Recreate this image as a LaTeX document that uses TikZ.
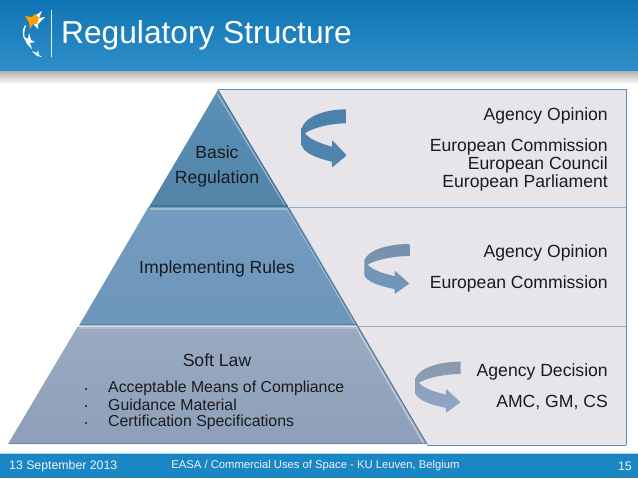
\documentclass[tikz,border=0pt]{standalone}
\usepackage{fontspec}
\setmainfont{Liberation Sans}
\definecolor{barTop}{HTML}{0F74B4}
\definecolor{barBot}{HTML}{2F8FC9}
\definecolor{footBlue}{HTML}{1B86C4}
\definecolor{panel}{HTML}{E7E5EA}
\definecolor{rule}{HTML}{8FA9C9}
\definecolor{edge}{HTML}{5F8DB8}
\definecolor{txt}{HTML}{1A1A1F}
\definecolor{aTop}{HTML}{5A90B8}
\definecolor{aBot}{HTML}{5284A6}
\definecolor{bTop}{HTML}{749CC0}
\definecolor{bBot}{HTML}{6C96BA}
\definecolor{cTop}{HTML}{99AAC1}
\definecolor{cBot}{HTML}{8EA0B9}
\definecolor{arAt}{HTML}{4C80A8}
\definecolor{arAb}{HTML}{4F86B0}
\definecolor{arBt}{HTML}{7890AA}
\definecolor{arBb}{HTML}{6F98C0}
\definecolor{arCt}{HTML}{8898AE}
\definecolor{arCb}{HTML}{8FA8C8}
\tikzset{
  label/.style={font=\fontsize{17.6pt}{20pt}\selectfont, text=txt, inner sep=0pt},
  listitem/.style={font=\fontsize{15.85pt}{18pt}\selectfont, text=txt, inner sep=0pt, anchor=west},
  foot/.style={font=\fontsize{12.3pt}{14pt}\selectfont, text=white!92!footBlue, inner sep=0pt},
  footmid/.style={font=\fontsize{11.25pt}{14pt}\selectfont, text=white!92!footBlue, inner sep=0pt}
}
\newcommand{\curlarrow}[5]{% x, y, yscale, top colour, bottom colour
  \begin{scope}[shift={(#1,#2)},yscale=#3]
    \shade[top color=#4,bottom color=#5] (45,0) .. controls (22,0) and (3,8) .. (0,19)
      -- (0,36) .. controls (2,44) and (16,49) .. (30,52.4)
      -- (30.6,58) -- (45,46) -- (30.6,31) -- (30.3,37.4)
      .. controls (18,34) and (8,30) .. (3.3,24)
      .. controls (10,19) and (28,14) .. (45,14) -- cycle;
  \end{scope}}
\begin{document}
\begin{tikzpicture}[x=1pt,y=-1pt]
\useasboundingbox (0,0) rectangle (638,479);
% header
\shade[top color=barTop,bottom color=barBot] (0,0) rectangle (638,71);
\shade[top color=black!30,bottom color=white] (0,71) rectangle (638,84);
% logo
\fill[white] (25,25) .. controls (22,30) and (22,35) .. (25,40) .. controls (24,35) and (24,30) .. (26,26) -- cycle;
\fill[white] (23,36) -- (28,39) -- (29,33) -- (31,40) -- (35,42) -- (30,43) -- (32,49) -- (27,44) -- cycle;
\fill[white] (32,51) -- (37,53) -- (38,50) -- (39,55) -- (42,57) -- (37,56) -- cycle;
\fill[white] (33,17) -- (42,11) -- (39,18) -- (45,17) -- (38,24) -- (38,29) -- (34,25) -- cycle;
\fill[orange!75!yellow] (25,16) -- (32,17) -- (35,14) -- (39,18) -- (37,24) -- (33,24) -- (30,29) -- (29,22) -- cycle;
\draw[white!85!barBot,line width=.6pt] (51,10) -- (51,57);
\node[anchor=base west,text=white,font=\fontsize{31.7pt}{36pt}\selectfont,inner sep=0pt] (title) at (61,43) {Regulatory Structure};
% footer
\fill[footBlue] (0,453) rectangle (638,478);
\draw[white!65!footBlue,line width=.7pt] (0,453) -- (638,453);
% panels
\fill[panel] (218,89) -- (626,89) -- (626,445) -- (427,445) -- cycle;
\draw[edge,line width=.8pt] (218,89) -- (626,89) -- (626,445);
\draw[edge,line width=.6pt] (626,445) -- (427,445);
\draw[rule,line width=.8pt] (290,207.5) -- (626,207.5);
\draw[rule,line width=.8pt] (357,326) -- (626,326);
% pyramid
\shade[top color=aTop,bottom color=aBot] (218,90) -- (288.5,207) -- (149,207) -- cycle;
\shade[top color=bTop,bottom color=bBot] (148.5,207) -- (289,207) -- (358,325.5) -- (79,325.5) -- cycle;
\shade[top color=cTop,bottom color=cBot] (78,326) -- (358.5,326) -- (427,444) -- (8,444) -- cycle;
% tier bevels
\draw[white!35!bBot,line width=2pt] (149.5,208.5) -- (288,208.5);
\draw[white!30!cBot,line width=2pt] (79,328) -- (358,328);
\draw[white!70!cTop,line width=.8pt] (78,326) -- (358,326);
\draw[aBot!88!black,line width=1.3pt] (150,206) -- (288,206);
\draw[bBot!85!black,line width=1.2pt] (81,324.5) -- (357,324.5);
\draw[cBot!85!black,line width=1.2pt] (9,443.5) -- (426,443.5);
\draw[white!35!aTop,line width=1.4pt] (217.5,94) -- (285,205);
\draw[white!40!bBot,line width=1.4pt] (287.5,209) -- (355,324);
\draw[white!45!cBot,line width=1.4pt] (356.5,328) -- (423.5,443);
\draw[edge!70!black,line width=.6pt] (218,90) -- (427,444);
% arrows
\curlarrow{301.7}{109.3}{1}{arAt}{arAb}
\curlarrow{364.3}{244}{.86}{arBt}{arBb}
\curlarrow{415.5}{361.7}{.88}{arCt}{arCb}
% pyramid text
\node[label] (t1a) at (217,152) {Basic};
\node[label] (t1b) at (217,178.5) {Regulation};
\node[label] (t2) at (217,269) {Implementing Rules};
\node[label] (t3) at (217,360) {Soft Law};
\node[listitem] (l1) at (108,388) {Acceptable Means of Compliance};
\node[listitem] (l2) at (108,405) {Guidance Material};
\node[listitem] (l3) at (108,422) {Certification Specifications};
\foreach \y in {389,406,423}{\fill[txt] (86,\y) circle (1.1pt);}
% right text
\node[label,anchor=east] (r1) at (608,116) {Agency Opinion};
\node[label,anchor=east] (r2) at (608,147) {European Commission};
\node[label,anchor=east] (r3) at (608,165) {European Council};
\node[label,anchor=east] (r4) at (608,183) {European Parliament};
\node[label,anchor=east] (r5) at (608,253) {Agency Opinion};
\node[label,anchor=east] (r6) at (608,284) {European Commission};
\node[label,anchor=east] (r7) at (608,372) {Agency Decision};
\node[label,anchor=east] (r8) at (608,402) {AMC, GM, CS};
% footer text
\node[foot,anchor=west] (f1) at (9,466) {13 September 2013};
\node[footmid] (f2) at (315.5,466) {EASA / Commercial Uses of Space - KU Leuven, Belgium};
\node[foot,anchor=east] (f3) at (632,466) {15};
\end{tikzpicture}
\end{document}
